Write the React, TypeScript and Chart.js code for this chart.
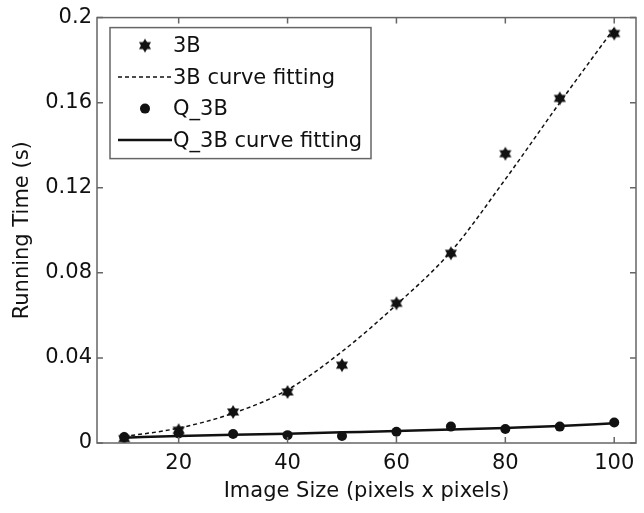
import React, { useEffect, useRef } from "react";
import { Chart, registerables } from "chart.js";

Chart.register(...registerables);

const xValues = [10, 20, 30, 40, 50, 60, 70, 80, 90, 100];
const series3B = [0.002, 0.006, 0.0146, 0.024, 0.0366, 0.0657, 0.0892, 0.136, 0.162, 0.1925];
const fit3B = [0.003, 0.007, 0.014, 0.025, 0.043, 0.065, 0.09, 0.124, 0.16, 0.195];
const seriesQ3B = [0.0028, 0.0045, 0.0042, 0.0037, 0.0033, 0.0053, 0.0077, 0.0066, 0.0077, 0.0096];
const fitQ3B = [0.0025, 0.0033, 0.0039, 0.0044, 0.005, 0.0056, 0.0063, 0.0071, 0.008, 0.0093];
const xTicks = [20, 40, 60, 80, 100];
const yTicks = [0, 0.04, 0.08, 0.12, 0.16, 0.2];
const legendLabels = ["3B", "3B curve fitting", "Q_3B", "Q_3B curve fitting"];
const xTitle = "Image Size (pixels x pixels)";
const yTitle = "Running Time (s)";

const FONT = "'DejaVu Sans', sans-serif";
const INK = "#111";
const FRAME = "#666";

function makeHexagram(r: number): HTMLCanvasElement {
  const size = Math.ceil(r * 2 + 2);
  const c = document.createElement("canvas");
  c.width = size;
  c.height = size;
  const g = c.getContext("2d")!;
  const cx = size / 2;
  const cy = size / 2;
  g.fillStyle = INK;
  for (const rot of [0, Math.PI]) {
    g.beginPath();
    for (let i = 0; i < 3; i++) {
      const a = rot + Math.PI / 2 + (i * 2 * Math.PI) / 3;
      const px = cx + r * Math.cos(a);
      const py = cy + r * Math.sin(a);
      if (i === 0) g.moveTo(px, py);
      else g.lineTo(px, py);
    }
    g.closePath();
    g.fill();
  }
  return c;
}

const pts = (ys: number[]) => xValues.map((x, i) => ({ x, y: ys[i] }));

export default function App() {
  const ref = useRef<HTMLCanvasElement | null>(null);

  useEffect(() => {
    if (!ref.current) return;
    const hex = makeHexagram(7);

    const framePlugin = {
      id: "framePlugin",
      afterDatasetsDraw(chart: any) {
        const { ctx, chartArea } = chart;
        const { left, right, top, bottom } = chartArea;
        const xs = chart.scales.x;
        const ys = chart.scales.y;
        ctx.save();
        ctx.strokeStyle = FRAME;
        ctx.lineWidth = 1.5;
        ctx.strokeRect(left, top, right - left, bottom - top);
        const tl = 6;
        ctx.beginPath();
        for (const v of xTicks) {
          const px = xs.getPixelForValue(v);
          ctx.moveTo(px, bottom);
          ctx.lineTo(px, bottom - tl);
          ctx.moveTo(px, top);
          ctx.lineTo(px, top + tl);
        }
        for (const v of yTicks) {
          const py = ys.getPixelForValue(v);
          ctx.moveTo(left, py);
          ctx.lineTo(left + tl, py);
          ctx.moveTo(right, py);
          ctx.lineTo(right - tl, py);
        }
        ctx.stroke();

        // legend box
        const bx = left + 13;
        const by = top + 10;
        const bw = 261;
        const bh = 131;
        ctx.fillStyle = "#fff";
        ctx.fillRect(bx, by, bw, bh);
        ctx.strokeStyle = FRAME;
        ctx.lineWidth = 1.5;
        ctx.strokeRect(bx, by, bw, bh);
        const rowH = 31.5;
        const lx0 = bx + 8;
        const lx1 = bx + 62;
        const mx = bx + 35;
        ctx.font = `21px ${FONT}`;
        ctx.textBaseline = "middle";
        ctx.textAlign = "left";
        legendLabels.forEach((label, i) => {
          const cy = by + 18 + i * rowH;
          if (i === 0) {
            ctx.drawImage(hex, mx - hex.width / 2, cy - hex.height / 2);
          } else if (i === 2) {
            ctx.fillStyle = INK;
            ctx.beginPath();
            ctx.arc(mx, cy, 5, 0, Math.PI * 2);
            ctx.fill();
          } else {
            ctx.strokeStyle = INK;
            ctx.lineWidth = i === 1 ? 1.5 : 2.5;
            ctx.setLineDash(i === 1 ? [4, 3] : []);
            ctx.beginPath();
            ctx.moveTo(lx0, cy);
            ctx.lineTo(lx1, cy);
            ctx.stroke();
            ctx.setLineDash([]);
          }
          ctx.fillStyle = INK;
          ctx.fillText(label, bx + 63, cy + 1);
        });
        ctx.restore();
      },
    };

    const chart = new Chart(ref.current, {
      type: "scatter",
      data: {
        datasets: [
          {
            label: legendLabels[1],
            data: pts(fit3B),
            showLine: true,
            borderColor: INK,
            borderWidth: 1.5,
            borderDash: [4, 3],
            pointRadius: 0,
            cubicInterpolationMode: "monotone",
            order: 3,
          },
          {
            label: legendLabels[3],
            data: pts(fitQ3B),
            showLine: true,
            borderColor: INK,
            borderWidth: 2.5,
            pointRadius: 0,
            cubicInterpolationMode: "monotone",
            order: 2,
          },
          {
            label: legendLabels[0],
            data: pts(series3B),
            showLine: false,
            pointStyle: hex as any,
            pointRadius: 7,
            backgroundColor: INK,
            borderColor: INK,
            order: 1,
          },
          {
            label: legendLabels[2],
            data: pts(seriesQ3B),
            showLine: false,
            pointStyle: "circle",
            pointRadius: 5,
            pointBorderWidth: 0,
            backgroundColor: INK,
            borderColor: INK,
            order: 0,
          },
        ],
      },
      options: {
        responsive: false,
        animation: false,
        layout: { padding: { top: 17, right: 5, left: 0, bottom: 0 } },
        plugins: {
          legend: { display: false },
          tooltip: { enabled: false },
        },
        scales: {
          x: {
            type: "linear",
            min: 5,
            max: 104,
            afterBuildTicks: (s: any) => {
              s.ticks = xTicks.map((v) => ({ value: v }));
            },
            afterFit: (s: any) => {
              s.height = 70;
            },
            grid: { display: false, drawTicks: false, tickLength: 0 },
            border: { display: false },
            ticks: {
              font: { family: FONT, size: 21 },
              color: INK,
              padding: 8,
              maxRotation: 0,
              callback: (v: any) => String(v),
            },
            title: {
              display: true,
              text: xTitle,
              font: { family: FONT, size: 21 },
              color: INK,
              padding: { top: 0, bottom: 9 },
            },
          },
          y: {
            type: "linear",
            min: 0,
            max: 0.2,
            afterBuildTicks: (s: any) => {
              s.ticks = yTicks.map((v) => ({ value: v }));
            },
            afterFit: (s: any) => {
              s.width = 97;
            },
            grid: { display: false, drawTicks: false, tickLength: 0 },
            border: { display: false },
            ticks: {
              font: { family: FONT, size: 21 },
              color: INK,
              padding: 5,
              callback: (v: any) => String(Number(v.toFixed(4))),
            },
            title: {
              display: true,
              text: yTitle,
              font: { family: FONT, size: 21 },
              color: INK,
              padding: { top: 10, bottom: 0 },
            },
          },
        },
      },
      plugins: [framePlugin],
    });

    return () => chart.destroy();
  }, []);

  return (
    <div style={{ position: "fixed", left: 0, top: 0, width: 644, height: 513, background: "#fff" }}>
      <canvas ref={ref} width={644} height={513} style={{ display: "block" }} />
    </div>
  );
}
